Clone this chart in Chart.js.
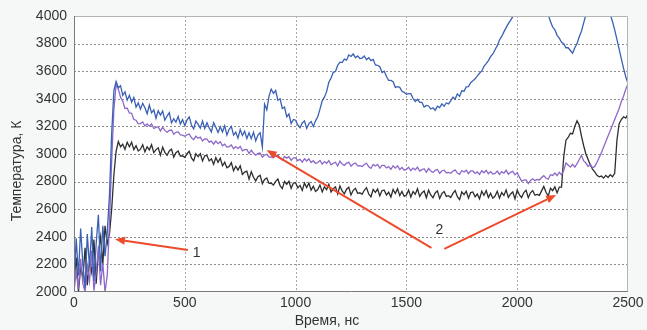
<!DOCTYPE html>
<html>
<head>
<meta charset="utf-8">
<script src="https://cdn.jsdelivr.net/npm/chart.js@4"></script>
<style>
  html, body { margin: 0; padding: 0; background: #f6f8f8; }
  canvas { display: block; }
</style>
</head>
<body>
<canvas id="tempChart" width="647" height="330"></canvas>
<script>
// sample grid: one point every 10 ns, 0..2500
const timeStep = 10;
const timeNs = Array.from({ length: 251 }, (_, i) => i * timeStep);

const xTicks = [0, 500, 1000, 1500, 2000, 2500];
const yTicks = [2000, 2200, 2400, 2600, 2800, 3000, 3200, 3400, 3600, 3800, 4000];

// blue trace (K), rows of 10 samples = 100 ns
const blueK = [
  2050, 2390, 2120, 2460, 2200, 2030, 2420, 2180, 2470, 2080,
  2350, 2560, 2150, 2480, 2260, 2430, 2700, 3150, 3460, 3525,
  3480, 3495, 3425, 3450, 3390, 3425, 3375, 3410, 3340, 3370,
  3325, 3367, 3335, 3292, 3355, 3298, 3320, 3259, 3313, 3282,
  3311, 3245, 3275, 3300, 3225, 3255, 3231, 3272, 3218, 3249,
  3205, 3247, 3269, 3210, 3182, 3239, 3215, 3187, 3239, 3185,
  3227, 3189, 3160, 3227, 3194, 3155, 3197, 3159, 3205, 3137,
  3179, 3200, 3137, 3159, 3115, 3177, 3134, 3165, 3112, 3154,
  3111, 3158, 3095, 3137, 3155, 3050, 3360, 3320, 3420, 3470,
  3440, 3460, 3390, 3400, 3330, 3340, 3270, 3290, 3220, 3250,
  3245, 3210, 3190, 3225, 3240, 3185, 3220, 3235, 3200, 3240,
  3270, 3325, 3385, 3412, 3452, 3520, 3550, 3592, 3598, 3643,
  3665, 3662, 3688, 3680, 3717, 3707, 3725, 3698, 3711, 3692,
  3695, 3710, 3683, 3698, 3677, 3686, 3645, 3643, 3632, 3590,
  3600, 3562, 3533, 3533, 3524, 3483, 3488, 3483, 3454, 3447,
  3432, 3437, 3437, 3402, 3380, 3396, 3374, 3374, 3340, 3352,
  3348, 3326, 3335, 3317, 3347, 3337, 3363, 3346, 3370, 3363,
  3385, 3412, 3398, 3436, 3418, 3458, 3455, 3486, 3488, 3517,
  3530, 3545, 3566, 3585, 3602, 3635, 3655, 3677, 3706, 3725,
  3755, 3785, 3826, 3852, 3885, 3916, 3945, 3968, 3995, 4030,
  4070, 4110, 4150, 4180, 4200, 4220, 4230, 4240, 4230, 4210,
  4180, 4140, 4100, 4050, 4010, 3960, 3920, 3900, 3860, 3840,
  3810, 3800, 3770, 3770, 3750, 3730, 3770, 3800, 3850, 3890,
  3950, 4010, 4070, 4120, 4160, 4180, 4190, 4180, 4160, 4120,
  4080, 4040, 4010, 3960, 3900, 3830, 3760, 3690, 3620, 3560,
  3510
];

// purple trace (K)
const purpleK = [
  2000, 2150, 2020, 2240, 2060, 2000, 2190, 2080, 2300, 2010,
  2140, 2330, 2050, 2210, 2000, 2120, 2500, 2950, 3320, 3505,
  3470, 3412, 3383, 3330, 3332, 3297, 3295, 3250, 3245, 3218,
  3220, 3232, 3203, 3218, 3202, 3218, 3185, 3193, 3196, 3167,
  3193, 3171, 3158, 3171, 3174, 3143, 3157, 3160, 3138, 3137,
  3128, 3139, 3145, 3118, 3104, 3128, 3114, 3122, 3094, 3110,
  3108, 3086, 3093, 3071, 3094, 3075, 3089, 3060, 3071, 3050,
  3053, 3066, 3038, 3054, 3039, 3056, 3023, 3031, 3033, 3003,
  3028, 3005, 2991, 3004, 3007, 2977, 2993, 2998, 2978, 2979,
  2972, 2985, 2993, 2968, 2956, 2982, 2970, 2980, 2954, 2972,
  2972, 2952, 2961, 2941, 2966, 2949, 2965, 2938, 2951, 2932,
  2938, 2953, 2927, 2945, 2933, 2952, 2922, 2933, 2939, 2913,
  2947, 2928, 2918, 2934, 2940, 2911, 2928, 2934, 2914, 2916,
  2910, 2924, 2933, 2908, 2897, 2924, 2913, 2924, 2898, 2917,
  2918, 2899, 2909, 2889, 2915, 2898, 2915, 2888, 2902, 2883,
  2889, 2904, 2879, 2898, 2885, 2905, 2876, 2887, 2893, 2867,
  2895, 2876, 2866, 2882, 2888, 2860, 2877, 2883, 2864, 2866,
  2860, 2875, 2885, 2862, 2852, 2880, 2870, 2882, 2858, 2878,
  2877, 2859, 2870, 2852, 2879, 2864, 2882, 2857, 2872, 2855,
  2859, 2876, 2852, 2872, 2861, 2882, 2854, 2867, 2874, 2849,
  2865, 2832, 2803, 2810, 2812, 2785, 2808, 2820, 2807, 2815,
  2812, 2830, 2843, 2824, 2817, 2850, 2845, 2862, 2843, 2868,
  2850, 2880, 2935, 2920, 2905, 2925, 2905, 2930, 2960, 2990,
  2950, 2935, 2910, 2925, 2900, 2910, 2940, 2975, 3010, 3050,
  3090, 3130, 3170, 3210, 3250, 3290, 3330, 3380, 3420, 3470,
  3510
];

// black trace (K)
const blackK = [
  2080, 2250, 2000, 2180, 2100, 2320, 2050, 2220, 2140, 2380,
  2060, 2290, 2400, 2200, 2480, 2350, 2420, 2600, 2850, 3020,
  3090, 3053, 3071, 3033, 3085, 3053, 3085, 3032, 3060, 3022,
  3035, 3067, 3015, 3052, 3030, 3067, 3010, 3032, 3045, 2992,
  3050, 3012, 2990, 3022, 3035, 2977, 3010, 3022, 2985, 2987,
  2975, 3002, 3020, 2972, 2950, 3002, 2980, 3002, 2950, 2987,
  2990, 2950, 2965, 2925, 2975, 2940, 2970, 2915, 2940, 2900,
  2910, 2937, 2879, 2911, 2883, 2915, 2852, 2869, 2876, 2818,
  2872, 2831, 2805, 2835, 2845, 2785, 2815, 2826, 2787, 2788,
  2775, 2802, 2819, 2771, 2749, 2802, 2780, 2803, 2751, 2789,
  2792, 2755, 2773, 2736, 2789, 2757, 2790, 2738, 2766, 2729,
  2742, 2776, 2725, 2763, 2742, 2781, 2724, 2748, 2762, 2710,
  2768, 2732, 2711, 2745, 2759, 2703, 2737, 2751, 2715, 2719,
  2708, 2737, 2756, 2710, 2689, 2743, 2722, 2746, 2696, 2735,
  2738, 2703, 2723, 2688, 2743, 2713, 2748, 2698, 2728, 2693,
  2703, 2738, 2688, 2728, 2708, 2748, 2693, 2718, 2733, 2683,
  2738, 2703, 2683, 2718, 2733, 2678, 2713, 2728, 2693, 2698,
  2685, 2715, 2735, 2690, 2670, 2725, 2705, 2730, 2680, 2720,
  2725, 2690, 2710, 2675, 2730, 2700, 2735, 2685, 2715, 2680,
  2695, 2730, 2680, 2720, 2700, 2740, 2685, 2710, 2725, 2675,
  2738, 2704, 2685, 2721, 2737, 2683, 2719, 2735, 2701, 2707,
  2700, 2733, 2765, 2723, 2695, 2752, 2735, 2762, 2718, 2760,
  2760, 2980, 3100, 3120, 3150, 3145, 3200, 3240, 3210, 3130,
  3060, 3000, 2960, 2920, 2890, 2870, 2845, 2835, 2840, 2825,
  2845, 2830, 2850, 2835, 2860, 3100, 3220, 3250, 3270, 3260,
  3290
];

// red arrows: [tail t, tail K, tip t, tip K], in data units
const arrows = [
  [514, 2304, 185, 2382],
  [1613, 2319, 869, 3029],
  [1671, 2312, 2176, 2703]
];
const arrowLabels = [
  { text: '1', t: 553, k: 2285 },
  { text: '2', t: 1649, k: 2449 }
];

const xTitle = 'Время, нс';
const yTitle = 'Температура, К';
const FONT = "'Liberation Sans', Arial, sans-serif";

const frame = {
  id: 'frame',
  beforeDraw(chart) {
    const { ctx, chartArea: a } = chart;
    ctx.save();
    ctx.fillStyle = '#f6f8f8';
    ctx.fillRect(0, 0, chart.width, chart.height);
    ctx.fillStyle = '#ffffff';
    ctx.fillRect(a.left, a.top, a.right - a.left, a.bottom - a.top);
    ctx.restore();
  },
  beforeDatasetsDraw(chart) {
    // dotted grid
    const { ctx, chartArea: a, scales } = chart;
    ctx.save();
    ctx.lineWidth = 1;
    ctx.setLineDash([2, 2]);
    ctx.strokeStyle = '#8c8c8c';
    yTicks.slice(1, -1).forEach(v => {
      const py = Math.round(scales.y.getPixelForValue(v)) + 0.5;
      ctx.beginPath();
      ctx.moveTo(a.left, py);
      ctx.lineTo(a.right, py);
      ctx.stroke();
    });
    ctx.strokeStyle = '#a8a8a8';
    xTicks.slice(1, -1).forEach(v => {
      const px = Math.round(scales.x.getPixelForValue(v)) + 0.5;
      ctx.beginPath();
      ctx.moveTo(px, a.top);
      ctx.lineTo(px, a.bottom);
      ctx.stroke();
    });
    ctx.restore();
  },
  afterDatasetsDraw(chart) {
    const { ctx, chartArea: a, scales } = chart;
    const x = scales.x, y = scales.y;
    ctx.save();
    // box
    ctx.strokeStyle = '#b4b4b4';
    ctx.lineWidth = 1;
    ctx.beginPath();
    ctx.moveTo(a.left + 0.5, a.top + 0.5);
    ctx.lineTo(a.right - 0.5, a.top + 0.5);
    ctx.lineTo(a.right - 0.5, a.bottom);
    ctx.stroke();
    ctx.strokeStyle = '#7a7a7a';
    ctx.beginPath();
    ctx.moveTo(a.left + 0.5, a.top);
    ctx.lineTo(a.left + 0.5, a.bottom - 0.5);
    ctx.lineTo(a.right, a.bottom - 0.5);
    ctx.stroke();

    // arrows
    ctx.strokeStyle = '#ee4a2c';
    ctx.fillStyle = '#ee4a2c';
    ctx.lineWidth = 2;
    arrows.forEach(([t0, k0, t1, k1]) => {
      const x0 = x.getPixelForValue(t0), y0 = y.getPixelForValue(k0);
      const x1 = x.getPixelForValue(t1), y1 = y.getPixelForValue(k1);
      const ang = Math.atan2(y1 - y0, x1 - x0);
      const hl = 10, hw = 4;
      const bx = x1 - hl * Math.cos(ang), by = y1 - hl * Math.sin(ang);
      ctx.beginPath();
      ctx.moveTo(x0, y0);
      ctx.lineTo(bx, by);
      ctx.stroke();
      ctx.beginPath();
      ctx.moveTo(x1, y1);
      ctx.lineTo(bx + hw * Math.sin(ang), by - hw * Math.cos(ang));
      ctx.lineTo(bx - hw * Math.sin(ang), by + hw * Math.cos(ang));
      ctx.closePath();
      ctx.fill();
    });

    ctx.fillStyle = '#333';
    ctx.font = '14px ' + FONT;
    ctx.textAlign = 'center';
    ctx.textBaseline = 'middle';
    arrowLabels.forEach(l => {
      ctx.fillText(l.text, x.getPixelForValue(l.t), y.getPixelForValue(l.k));
    });

    // axis titles
    ctx.fillText(xTitle, 327, 321);
    ctx.translate(17, 171);
    ctx.rotate(-Math.PI / 2);
    ctx.fillText(yTitle, 0, 0);
    ctx.restore();
  }
};

const line = (label, data, color, order) => ({
  label, data, borderColor: color, borderWidth: 1.3,
  pointRadius: 0, tension: 0, fill: false, order
});

new Chart(document.getElementById('tempChart'), {
  type: 'line',
  data: {
    labels: timeNs,
    datasets: [
      line('blue', blueK, '#3a60b5', 1),
      line('purple', purpleK, '#8c68c8', 2),
      line('black', blackK, '#2e2e2e', 3)
    ]
  },
  options: {
    responsive: false,
    animation: false,
    layout: { padding: { left: 0, top: 16, right: 19, bottom: 0 } },
    plugins: { legend: { display: false }, tooltip: { enabled: false } },
    scales: {
      x: {
        type: 'linear', min: 0, max: 2500,
        afterFit(s) { s.height = 38; },
        afterBuildTicks(s) { s.ticks = xTicks.map(v => ({ value: v })); },
        ticks: {
          padding: 3, color: '#333', maxRotation: 0,
          font: { family: FONT, size: 14 },
          callback: v => String(v)
        },
        grid: { display: false, drawTicks: false },
        border: { display: false }
      },
      y: {
        min: 2000, max: 4000,
        afterFit(s) { s.width = 74; },
        afterBuildTicks(s) { s.ticks = yTicks.map(v => ({ value: v })); },
        ticks: {
          padding: 7, color: '#333',
          font: { family: FONT, size: 14 },
          callback: v => String(v)
        },
        grid: { display: false, drawTicks: false },
        border: { display: false }
      }
    }
  },
  plugins: [frame]
});
</script>
</body>
</html>
